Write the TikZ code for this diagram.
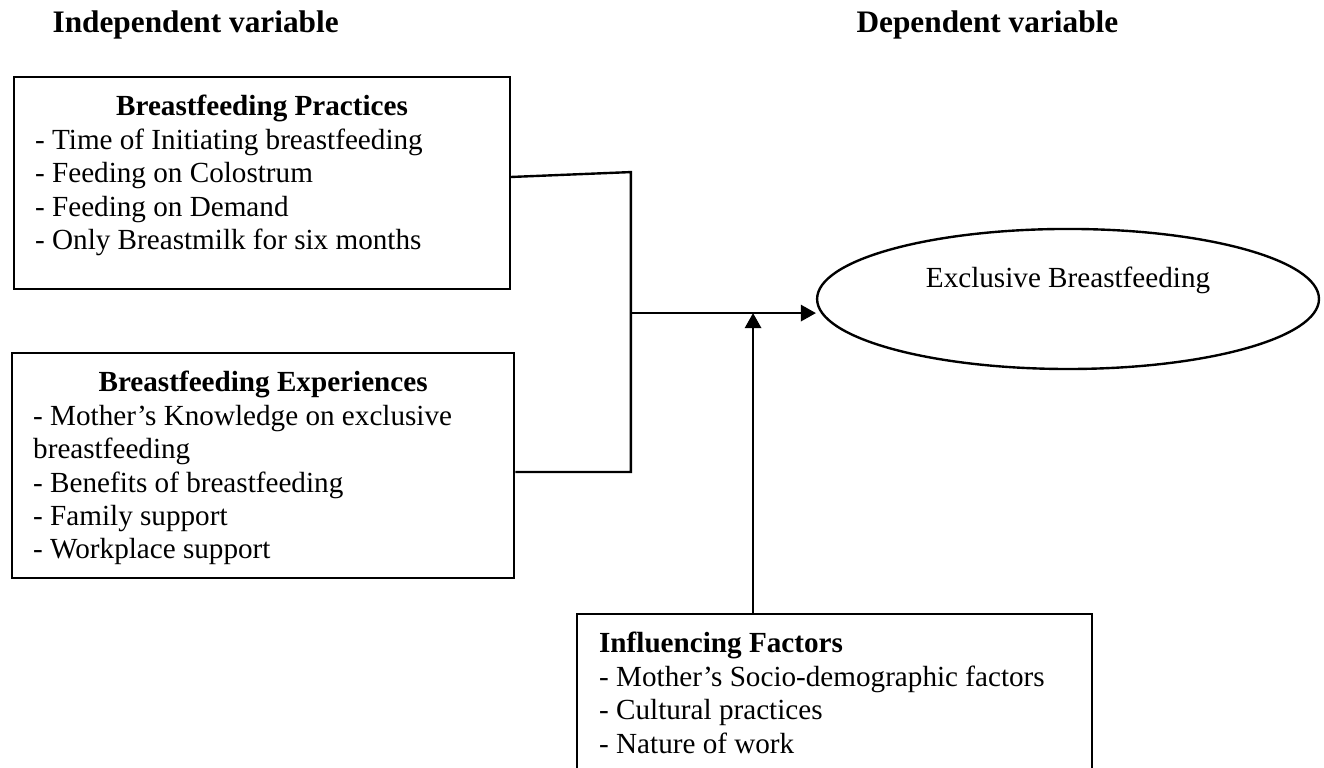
\documentclass[tikz,border=0pt]{standalone}
\usepackage{fontspec}
\setmainfont{Liberation Serif}
\usetikzlibrary{arrows.meta,shapes.geometric}

\begin{document}
\begin{tikzpicture}[x=1pt, y=-1pt,
  every node/.style={font=\fontsize{12.2pt}{14pt}\selectfont},
  heading/.style={inner sep=0pt, anchor=base west, font=\fontsize{13.1pt}{15pt}\selectfont\bfseries},
  factorbox/.style={draw, line width=1pt, anchor=north west, inner xsep=8.8pt, inner ysep=7.5pt},
  link/.style={line width=1pt},
  arr/.style={line width=1pt, -{Triangle[length=6.3pt,width=6.8pt]}}]

\useasboundingbox (0,0) rectangle (554,321);
\clip (0,0) rectangle (554,321);

% headings
\node[heading] (indep) at (21.8,13.4) {Independent variable};
\node[heading] (dep) at (358.2,13.4) {Dependent variable};

% independent variable boxes
\node[factorbox] (pract) at (5.4,31.8) {\parbox[t][73.7pt][t]{189.9pt}{%
  {\centering\bfseries Breastfeeding Practices\par}
  - Time of Initiating breastfeeding\\
  - Feeding on Colostrum\\
  - Feeding on Demand\\
  - Only Breastmilk for six months}};

\node[factorbox] (exper) at (4.6,147.3) {\parbox[t][79.1pt][t]{192.4pt}{%
  {\centering\bfseries Breastfeeding Experiences\par}
  - Mother’s Knowledge on exclusive\\
  breastfeeding\\
  - Benefits of breastfeeding\\
  - Family support\\
  - Workplace support}};

% dependent variable
\node[ellipse, draw, line width=1pt, minimum width=210pt, minimum height=58.6pt,
      inner sep=0pt, text height=8.3pt, text depth=17.5pt] (ebf) at (446.9,125.1) {Exclusive Breastfeeding};

% influencing factors
\node[factorbox, inner xsep=9.2pt] (infl) at (241.0,256.5) {\parbox[t][68.5pt][t]{197.1pt}{%
  {\bfseries Influencing Factors}\\
  - Mother’s Socio-demographic factors\\
  - Cultural practices\\
  - Nature of work}};

% connectors
\coordinate (pjoin) at (264,72);
\coordinate (ejoin) at (264,197.5);
\coordinate (mid) at (264,131);
\coordinate (meet) at (315.1,131);

\draw[link] ([yshift=2.6pt]pract.east) -- (pjoin) -- (ejoin) -- (exper.east |- ejoin);
\draw[arr] (mid) -- (mid -| ebf.west);
\draw[arr] (infl.north -| meet) -- (meet);

\end{tikzpicture}
\end{document}
